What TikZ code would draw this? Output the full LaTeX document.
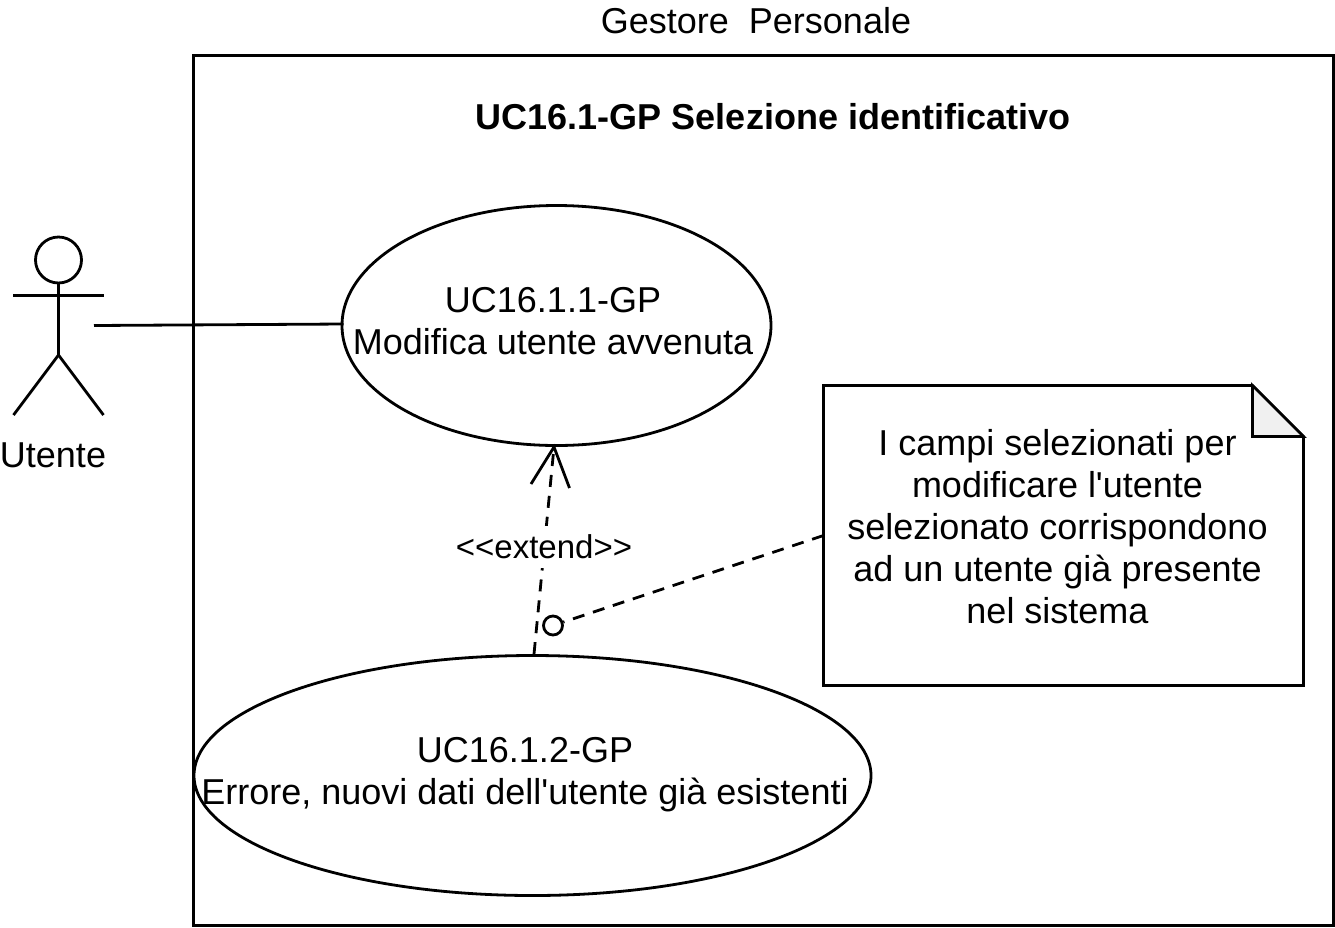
\documentclass[tikz,border=0pt]{standalone}
\usepackage{fontspec}
\setmainfont[Ligatures=TeXOff]{Liberation Sans}
\usetikzlibrary{arrows.meta,shapes.geometric}

\tikzset{
	usecase/.style={draw,line width=2.8pt,ellipse,inner sep=0pt,align=center},
	txt/.style={align=center,font=\fontsize{36}{42}\selectfont},
	link/.style={line width=2.8pt},
	dashlink/.style={line width=2.8pt,dash pattern=on 12pt off 9pt}
}

\begin{document}
\begin{tikzpicture}[x=1pt,y=-1pt]
	\useasboundingbox (0,0) rectangle (1335,927);
	% system box
	\draw[link] (193.5,55.5) rectangle (1333.5,925.5);
	\node[txt] (gestore) at (756,20.5) {Gestore\ \ Personale};
	\node[txt,font=\bfseries\fontsize{36}{42}\selectfont] (titolo) at (773,116.5) {UC16.1-GP Selezione identificativo};
	% actor
	\draw[link] (58.5,260) circle (23);
	\draw[link] (58.5,283) -- (58.5,355) -- (13.5,415);
	\draw[link] (58.5,355) -- (103.5,415);
	\draw[link] (13,295.5) -- (103.5,295.5);
	\node[txt] (utente) at (53,455.5) {Utente};
	\coordinate (mano) at (94,325.5);
	% use cases
	\node[usecase,minimum width=429pt,minimum height=240pt] (uc1) at (556.5,325.5) {};
	\node[txt] (uc1txt) at (553,321) {UC16.1.1-GP\\Modifica utente avvenuta};
	\node[usecase,minimum width=677pt,minimum height=240pt] (uc2) at (532.5,775.5) {};
	\node[txt] (uc2txt) at (525,775) {UC16.1.2-GP\\Errore, nuovi dati dell'utente già esistenti};
	% note
	\draw[link] (823.5,385.5) -- (1252.5,385.5) -- (1303.5,436.5) -- (1303.5,685.5) -- (823.5,685.5) -- cycle;
	\draw[link,fill=black!6] (1252.5,385.5) -- (1252.5,436.5) -- (1303.5,436.5) -- cycle;
	\node[txt] (nota) at (1057.5,527) {I campi selezionati per\\modificare l'utente\\selezionato corrispondono\\ad un utente già presente\\nel sistema};
	\coordinate (notaw) at (823.5,535.5);
	% connectors
	\draw[link] (mano) -- ([shift={(3,-1.5)}]uc1.west);
	\coordinate (testa) at (554,447);
	\draw[dashlink] ([xshift=1.5pt]uc2.north) -- (testa);
	\draw[link] (531,484) -- (testa) -- (569.5,488);
	\node[fill=white,inner xsep=1pt,inner ysep=9pt,font=\fontsize{33}{38}\selectfont] (ext) at (544,547) {<<extend>>};
	\node[draw,circle,line width=2.8pt,minimum size=19pt,inner sep=0pt,fill=white] (occhio) at (553,625.5) {};
	\draw[dashlink] (notaw) -- (occhio);
\end{tikzpicture}
\end{document}
